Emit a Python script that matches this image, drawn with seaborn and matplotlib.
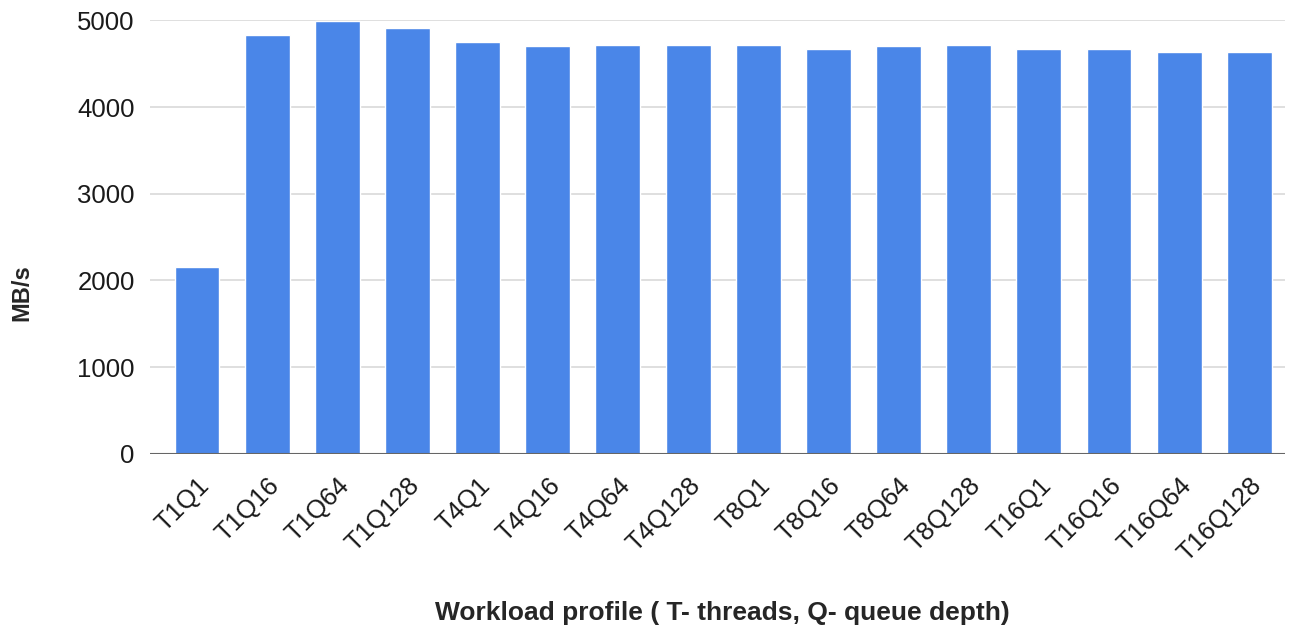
import matplotlib
matplotlib.use("Agg")
import matplotlib.pyplot as plt
import seaborn as sns
import pandas as pd

# datos del grafico
perfiles = ["T1Q1", "T1Q16", "T1Q64", "T1Q128", "T4Q1", "T4Q16", "T4Q64", "T4Q128",
            "T8Q1", "T8Q16", "T8Q64", "T8Q128", "T16Q1", "T16Q16", "T16Q64", "T16Q128"]
mbps = [2158, 4827, 4992, 4916, 4747, 4700, 4720, 4720,
        4720, 4670, 4700, 4720, 4670, 4670, 4635, 4635]
yticks = [0, 1000, 2000, 3000, 4000, 5000]

df = pd.DataFrame({"perfil": perfiles, "mbps": mbps})

sns.set_style("white")
plt.rcParams["font.family"] = ["Liberation Sans", "DejaVu Sans"]

fig = plt.figure(figsize=(12.98, 6.34), dpi=100)
ax = fig.add_axes([0.1156, 0.284, 0.8744, 0.684])

sns.barplot(data=df, x="perfil", y="mbps", color="#4a86e8", width=0.64,
            saturation=1, ax=ax, zorder=3)

ax.set_ylim(0, 5000)
ax.set_xlim(-0.67, len(perfiles) - 0.49)
ax.set_yticks(yticks)
ax.set_yticklabels([str(v) for v in yticks], fontsize=18.5, color="#1a1a1a")
ax.yaxis.grid(True, color="#d9d9d9", linewidth=1.2, zorder=0)
ax.axhline(0, color="#666666", linewidth=1.5, zorder=4)
for s in ax.spines.values():
    s.set_visible(False)
ax.tick_params(axis="both", length=0)
ax.tick_params(axis="y", pad=11)

ax.set_xticks(range(len(perfiles)))
ax.set_xticklabels(perfiles, rotation=45, ha="right", rotation_mode="anchor",
                   fontsize=18.5, color="#1a1a1a")
ax.tick_params(axis="x", pad=14)

ax.set_xlabel("Workload profile ( T- threads, Q- queue depth)", fontsize=19,
              fontweight="bold", va="center")
ax.xaxis.set_label_coords(0.5 + 5 / 1135, -0.366)
ax.set_ylabel("MB/s", fontsize=17, fontweight="bold", va="center")
ax.yaxis.set_label_coords(-0.1125, 0.373)

fig.savefig("out.png", dpi=100)
